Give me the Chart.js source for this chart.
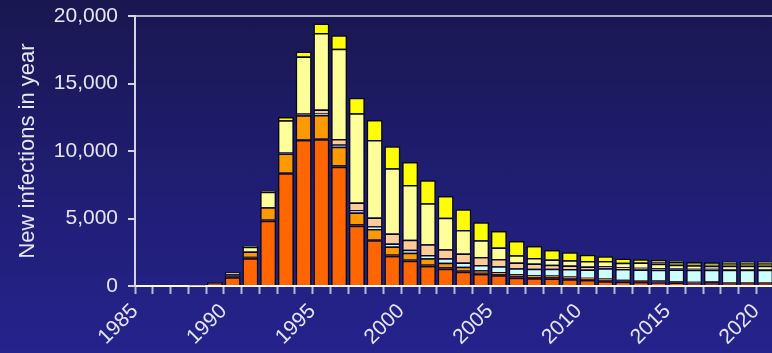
<!DOCTYPE html>
<html>
<head>
<meta charset="utf-8">
<script src="https://cdn.jsdelivr.net/npm/chart.js@4.4.1/dist/chart.umd.min.js"></script>
<style>
  html, body { margin: 0; padding: 0; width: 772px; height: 353px; overflow: hidden; }
  body { background: linear-gradient(to bottom, #19174f 0%, #201e74 55%, #25238c 100%); }
  #wrap { width: 780px; height: 353px; }
</style>
</head>
<body>
<div id="wrap"><canvas id="c" width="780" height="353"></canvas></div>
<script>
const years = [];
for (let y = 1985; y <= 2020; y++) years.push(String(y));

const orangeRed = [0,0,0,30,170,650,2060,4840,8350,10810,10870,8840,4470,3380,2230,1870,1490,1270,1050,880,790,620,570,560,500,440,350,320,280,250,220,150,150,150,150,150];
const darkBand = [0,0,0,20,130,120,100,80,60,60,60,110,100,60,100,100,100,110,100,100,100,100,100,100,100,80,100,80,90,90,90,100,120,100,100,100];
const orange = [0,0,0,0,0,100,390,910,1400,1780,1730,1360,870,790,590,500,470,350,270,190,150,150,130,110,100,100,100,70,60,60,60,60,80,50,50,50];
const cyan = [0,0,0,0,0,0,0,0,110,60,120,170,180,200,220,220,240,320,330,390,420,440,480,500,560,600,760,790,800,800,850,900,860,900,900,900];
const peach = [0,0,0,0,0,0,0,0,0,100,300,400,570,640,740,740,790,670,650,580,540,430,380,300,260,230,160,130,130,110,80,60,60,60,60,60];
const lightYellow = [0,0,0,0,0,150,350,1150,2350,4190,5670,6700,6600,5750,4850,4050,3040,2330,1750,1250,850,540,420,400,380,400,390,340,380,330,280,270,230,240,240,240];
const olive = [0,0,0,0,0,0,0,0,0,0,0,0,0,0,0,0,0,0,0,0,0,0,0,0,0,0,0,0,0,110,220,240,260,170,170,170];
const yellow = [0,0,0,0,0,0,80,80,240,370,700,1000,1160,1470,1620,1700,1700,1610,1530,1340,1220,1060,880,700,600,460,340,300,240,180,70,0,0,150,150,150];

const yTicks = [0, 5000, 10000, 15000, 20000];
const textColor = '#e6e6f2';

function ds(label, data, color) {
  return {
    label, data,
    backgroundColor: color,
    borderColor: '#08080f',
    borderWidth: 1.5,
    borderSkipped: 'start',
    barPercentage: 0.9,
    categoryPercentage: 1.0
  };
}

new Chart(document.getElementById('c'), {
  type: 'bar',
  data: {
    labels: years,
    datasets: [
      ds('A', orangeRed, '#ff6600'),
      ds('B', darkBand, '#7a3a00'),
      ds('C', orange, '#ff9900'),
      ds('D', cyan, '#ccffff'),
      ds('E', peach, '#ffcc99'),
      ds('F', lightYellow, '#ffff99'),
      ds('G', olive, '#b3b32a'),
      ds('H', yellow, '#ffff00')
    ]
  },
  options: {
    responsive: false,
    animation: false,
    layout: { padding: { top: 16, right: 6, left: 0, bottom: 0 } },
    plugins: { legend: { display: false }, tooltip: { enabled: false } },
    scales: {
      x: {
        stacked: true,
        afterFit: s => { s.height = 67; s.paddingLeft = 0; s.paddingRight = 0; },
        border: { display: true, color: '#ffffff', width: 2 },
        grid: {
          display: true, offset: true, drawOnChartArea: false,
          tickColor: '#b8b8d8', tickLength: 8, tickWidth: 2
        },
        ticks: {
          autoSkip: false, minRotation: 45, maxRotation: 45,
          color: textColor, padding: 5, labelOffset: -9,
          font: { family: 'Liberation Sans, Arial, sans-serif', size: 21 },
          callback: function(v, i) { const y = Number(years[i]); return y % 5 === 0 ? years[i] : ''; }
        }
      },
      y: {
        stacked: true, min: 0, max: 20000,
        afterFit: s => { s.width = 135; s.paddingTop = 0; s.paddingBottom = 0; },
        afterBuildTicks: s => { s.ticks = yTicks.map(v => ({ value: v })); },
        border: { display: true, color: '#d4d4e6', width: 2 },
        grid: {
          display: true, drawOnChartArea: true,
          color: c => (c.tick && c.tick.value === 20000) ? '#b4b4c8' : 'rgba(0,0,0,0)',
          lineWidth: 2, tickColor: '#d4d4e6', tickLength: 7, tickWidth: 2
        },
        ticks: {
          color: textColor, padding: 10,
          font: { family: 'Liberation Sans, Arial, sans-serif', size: 21 },
          callback: v => Number(v).toLocaleString('en-US')
        },
        title: {
          display: true, text: 'New infections in year', color: textColor,
          font: { family: 'Liberation Sans, Arial, sans-serif', size: 22 },
          padding: { top: 15, bottom: 0 }
        }
      }
    }
  }
});
</script>
</body>
</html>
